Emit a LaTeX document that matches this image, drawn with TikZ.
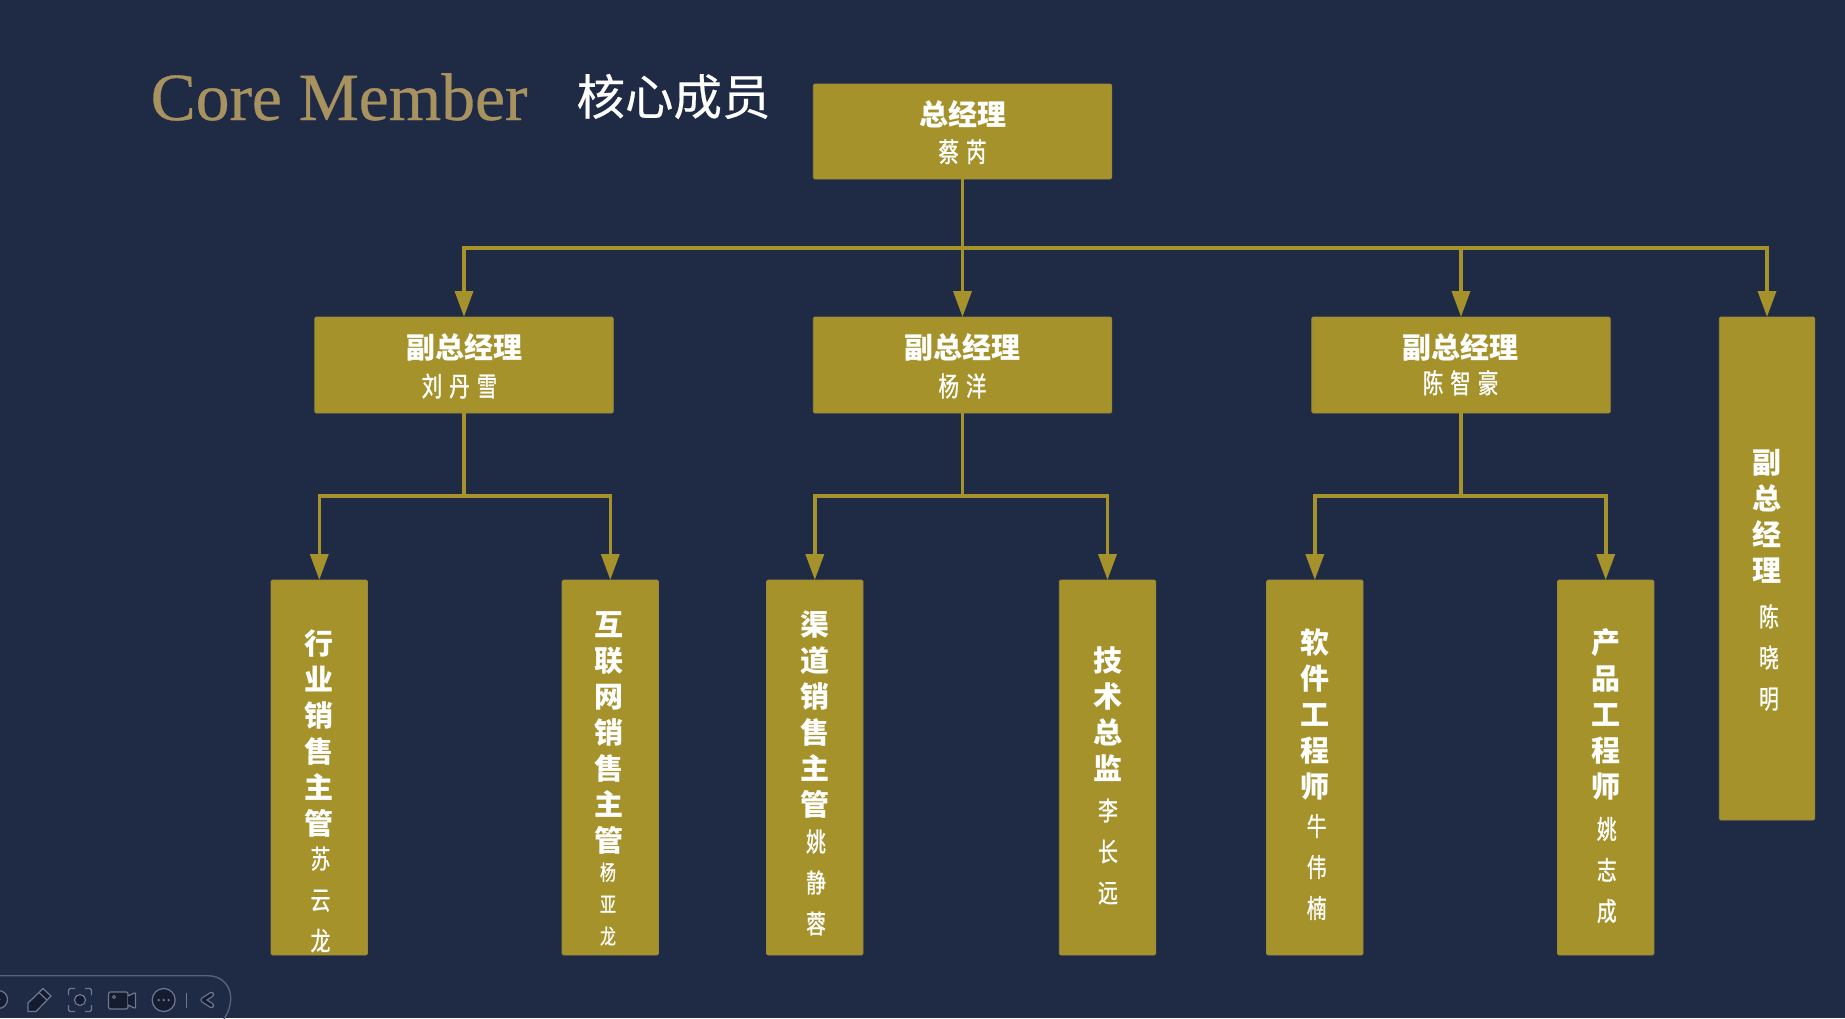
\documentclass[tikz,border=0pt]{standalone}
\usepackage{fontspec}
\usetikzlibrary{arrows.meta}
\setmainfont{Liberation Serif}
\newfontfamily\cjkmain{Noto Sans CJK SC}
\newfontfamily\cjkhead[FakeBold=0.4]{Noto Sans CJK SC}
\newfontfamily\cjkname[FakeStretch=0.76,FakeBold=1.0]{Noto Sans CJK SC}
\newfontfamily\enghead[FakeBold=0.5]{Liberation Serif}
\definecolor{bgnavy}{HTML}{1F2A44}
\definecolor{gold}{HTML}{A5922B}
\definecolor{goldedge}{HTML}{9A8A3C}
\definecolor{tan}{HTML}{A8925F}
\definecolor{barline}{HTML}{56617F}
\definecolor{icondark}{HTML}{151C30}
\definecolor{iconline}{HTML}{6F7892}
\tikzset{
  goldbox/.style={rectangle,fill=gold,draw=goldedge,line width=.8pt,rounded corners=1.5pt,inner sep=0pt,outer sep=0pt},
  widebox/.style={goldbox,minimum width=298.5pt,minimum height=96pt},
  tallbox/.style={goldbox,minimum width=96.5pt,minimum height=375pt},
  titletext/.style={inner sep=0pt,text=white,align=center,font=\cjkmain\bfseries\fontsize{29}{36}\selectfont},
  nameline/.style={inner sep=0pt,text=white,font=\cjkname\fontsize{27}{32}\selectfont},
  namecol/.style={inner sep=0pt,text=white,align=center,font=\cjkname\fontsize{26}{41}\selectfont},
  namecolsmall/.style={inner sep=0pt,text=white,align=center,font=\cjkname\fontsize{21}{32}\selectfont},
  trunk/.style={draw=gold,line width=3.6pt},
  branch/.style={draw=gold,line width=3.6pt,-{Triangle[length=26pt,width=18pt]},shorten >=0pt},
  barstroke/.style={draw=barline,line width=1.4pt},
  iconstroke/.style={draw=iconline,fill=icondark,line width=1.2pt,line join=round},
}
\newcommand{\gap}{\hspace{7pt}}
\begin{document}
\begin{tikzpicture}[x=1pt,y=-1pt]
\useasboundingbox (0,0) rectangle (1845,1018);
\fill[bgnavy] (0,0) rectangle (1845,1018);

% heading
\node[inner sep=0pt,anchor=base west,text=tan,font=\enghead\fontsize{67.5}{70}\selectfont] (headen) at (150.5,120) {Core Member};
\node[inner sep=0pt,text=white,font=\cjkhead\fontsize{48.5}{50}\selectfont] (headcn) at (673.5,96.5) {核心成员};

% boxes
\node[widebox,minimum height=95pt] (top) at (962.5,131.5) {};
\node[widebox] (vpa) at (464,365) {};
\node[widebox] (vpb) at (962.5,365) {};
\node[widebox] (vpc) at (1461,365) {};
\node[goldbox,minimum width=95.5pt,minimum height=503pt] (vpd) at (1767,568.5) {};
\node[tallbox] (la) at (319.3,767.5) {};
\node[tallbox] (lb) at (610.3,767.5) {};
\node[tallbox] (lc) at (814.8,767.5) {};
\node[tallbox] (ld) at (1107.5,767.5) {};
\node[tallbox] (le) at (1314.8,767.5) {};
\node[tallbox] (lf) at (1605.7,767.5) {};

% bus points
\coordinate (bus) at (962.5,248);
\coordinate (busa) at (464,496);
\coordinate (busb) at (962.5,496);
\coordinate (busc) at (1461,496);

% connectors
\draw[trunk] (top.south) -- (bus);
\draw[branch] (bus) -| (vpa.north);
\draw[branch] (bus) -- (vpb.north);
\draw[branch] (bus) -| (vpc.north);
\draw[branch] (bus) -| (vpd.north);
\draw[trunk] (vpa.south) -- (busa);
\draw[branch] (busa) -| (la.north);
\draw[branch] (busa) -| (lb.north);
\draw[trunk] (vpb.south) -- (busb);
\draw[branch] (busb) -| (lc.north);
\draw[branch] (busb) -| (ld.north);
\draw[trunk] (vpc.south) -- (busc);
\draw[branch] (busc) -| (le.north);
\draw[branch] (busc) -| (lf.north);

% horizontal labels
\node[titletext] (toptitle) at (962.5,114.5) {总经理};
\node[nameline] (topname) at (962.5,151.7) {蔡\gap 芮};
\node[titletext] (vpatitle) at (464,347.5) {副总经理};
\node[nameline] (vpaname) at (459.5,386) {刘\gap 丹\gap 雪};
\node[titletext] (vpbtitle) at (962.5,347.5) {副总经理};
\node[nameline] (vpbname) at (962.5,386) {杨\gap 洋};
\node[titletext] (vpctitle) at (1460.6,347.5) {副总经理};
\node[nameline] (vpcname) at (1460.6,382.8) {陈\gap 智\gap 豪};

% vertical labels
\node[titletext] (vpdtitle) at (1767,516) {副\\总\\经\\理};
\node[namecol] (vpdname) at (1769,657.5) {陈\\晓\\明};
\node[titletext] (latitle) at (319,733) {行\\业\\销\\售\\主\\管};
\node[namecol] (laname) at (320.5,899.5) {苏\\云\\龙};
\node[titletext] (lbtitle) at (609,732.5) {互\\联\\网\\销\\售\\主\\管};
\node[namecolsmall] (lbname) at (608,904) {杨\\亚\\龙};
\node[titletext] (lctitle) at (815,714.5) {渠\\道\\销\\售\\主\\管};
\node[namecol] (lcname) at (816,882.5) {姚\\静\\蓉};
\node[titletext] (ldtitle) at (1107.7,714) {技\\术\\总\\监};
\node[namecol] (ldname) at (1108,851.5) {李\\长\\远};
\node[titletext] (letitle) at (1315,714) {软\\件\\工\\程\\师};
\node[namecol] (lename) at (1316.7,867) {牛\\伟\\楠};
\node[titletext] (lftitle) at (1605.6,714) {产\\品\\工\\程\\师};
\node[namecol] (lfname) at (1606.8,870) {姚\\志\\成};

% toolbar at the bottom left
\begin{scope}
\clip (0,0) rectangle (1845,1018);
\draw[barstroke] (-5,975.7) -- (208,975.7) .. controls (222,975.7) and (230.7,986) .. (230.7,998) .. controls (230.7,1006) and (228,1013) .. (224,1019);
\draw[iconstroke] (-1.5,999.5) circle[radius=9];
\fill[iconline] (-0.5,999.5) circle[radius=1.2];
% pencil
\draw[iconstroke] (28,1003) -- (43,988.5) -- (51,996) -- (36,1011.5) -- (28,1011.5) -- cycle;
\draw[iconstroke] (39,992.5) -- (47,1000);
% capture
\draw[iconstroke,fill=none,rounded corners=1.5pt] (68.5,995) -- (68.5,988.5) -- (75,988.5) (85,988.5) -- (91.5,988.5) -- (91.5,995) (91.5,1005) -- (91.5,1011.5) -- (85,1011.5) (75,1011.5) -- (68.5,1011.5) -- (68.5,1005);
\draw[iconstroke] (80,1000) circle[radius=5.5];
% camera
\draw[iconstroke,rounded corners=1.5pt] (108.5,992) rectangle (128,1009);
\draw[iconstroke,rounded corners=1pt] (128,996) -- (135.5,992.5) -- (135.5,1008.5) -- (128,1005);
\draw[iconline,line width=.8pt] (114,997) circle[radius=1.5];
% more
\draw[iconstroke] (163.7,1000) circle[radius=11.5];
\fill[iconline] (158.7,1000) circle[radius=1.3] (163.7,1000) circle[radius=1.3] (168.7,1000) circle[radius=1.3];
% separator
\draw[iconline,line width=1pt] (186.5,992.5) -- (186.5,1007.5);
% chevron
\draw[iconline,line width=5.5pt,line cap=round,line join=round] (211.5,994.5) -- (203,1000) -- (211.5,1005.5);
\draw[icondark,line width=3pt,line cap=round,line join=round] (211.5,994.5) -- (203,1000) -- (211.5,1005.5);
\end{scope}
\end{tikzpicture}
\end{document}
